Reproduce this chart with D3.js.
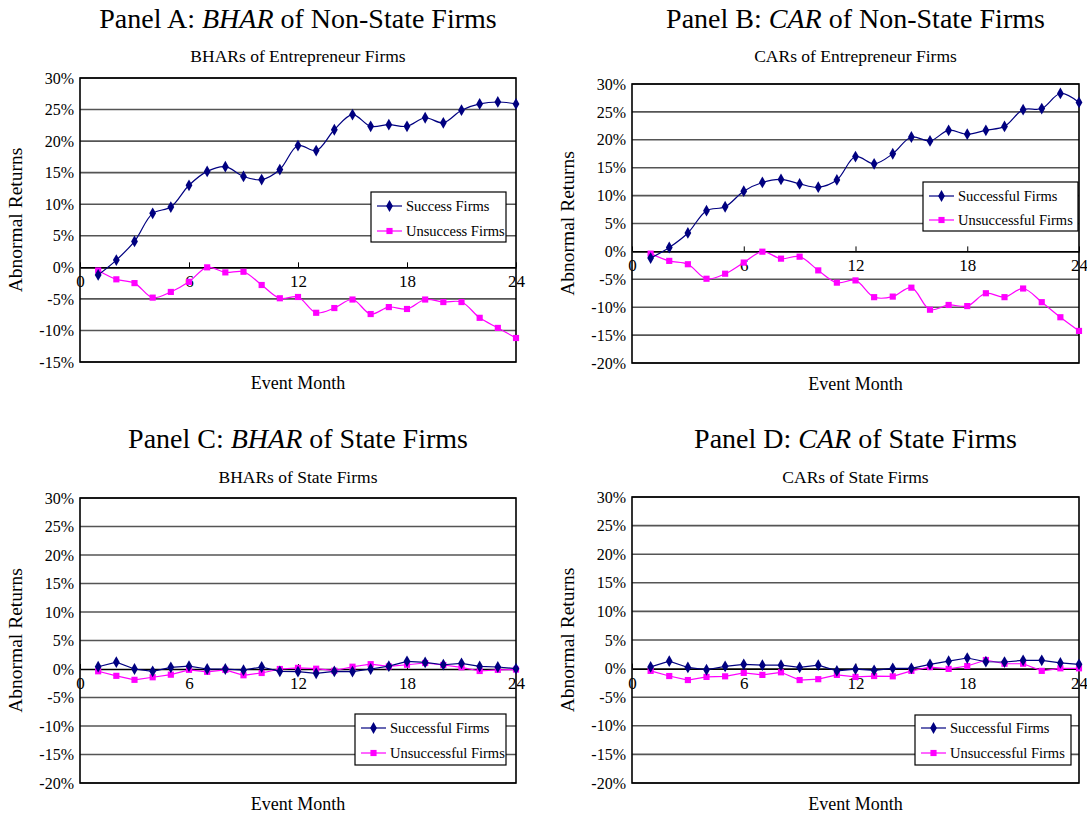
<!DOCTYPE html>
<html>
<head>
<meta charset="utf-8">
<script src="https://cdn.jsdelivr.net/npm/d3@7"></script>
<style>
body { margin: 0; background: #fff; }
svg text { font-family: "Liberation Serif", "Times New Roman", serif; fill: #000; }
</style>
</head>
<body>
<div id="chart"></div>
<script>
//event months and axis ticks
var months = [1, 2, 3, 4, 5, 6, 7, 8, 9, 10, 11, 12, 13, 14, 15, 16, 17, 18, 19, 20, 21, 22, 23, 24];
var xTicks = [0, 6, 12, 18, 24];
var yTicksA = [30, 25, 20, 15, 10, 5, 0, -5, -10, -15];
var yTicksRest = [30, 25, 20, 15, 10, 5, 0, -5, -10, -15, -20];

//panel A: BHAR of non-state firms (%)
var bharNonStateSuccess = [-1.2, 1.15, 4.1, 8.55, 9.55, 13.0, 15.2, 15.95, 14.4, 13.9, 15.5, 19.3,
    18.5, 21.8, 24.2, 22.35, 22.6, 22.35, 23.7, 22.9, 24.9, 25.9, 26.2, 25.9];
var bharNonStateUnsuccess = [-0.5, -1.9, -2.5, -4.8, -3.9, -2.3, 0.0, -0.8, -0.7, -2.8, -4.9, -4.7,
    -7.2, -6.45, -5.1, -7.4, -6.3, -6.6, -5.1, -5.5, -5.5, -8.0, -9.6, -11.2];

//panel B: CAR of non-state firms (%)
var carNonStateSuccess = [-1.2, 0.7, 3.3, 7.3, 8.0, 10.8, 12.35, 12.9, 12.1, 11.5, 12.8, 17.0,
    15.7, 17.5, 20.5, 19.8, 21.7, 21.0, 21.7, 22.4, 25.4, 25.6, 28.3, 26.7];
var carNonStateUnsuccess = [-0.4, -1.7, -2.3, -4.9, -4.0, -2.0, -0.05, -1.3, -0.95, -3.4, -5.6, -5.2,
    -8.2, -8.1, -6.5, -10.45, -9.6, -9.8, -7.5, -8.2, -6.65, -9.1, -11.8, -14.25];

//panel C: BHAR of state firms (%)
var bharStateSuccess = [0.4, 1.2, 0.0, -0.4, 0.3, 0.5, 0.0, 0.0, -0.2, 0.35, -0.4, -0.45,
    -0.75, -0.4, -0.45, 0.0, 0.5, 1.35, 1.15, 0.75, 1.0, 0.45, 0.35, 0.05];
var bharStateUnsuccess = [-0.4, -1.2, -1.9, -1.45, -1.0, -0.15, -0.5, -0.15, -1.1, -0.7, 0.0, 0.2,
    0.05, -0.3, 0.4, 0.85, 0.45, 0.75, 1.05, 0.7, 0.3, -0.35, -0.15, -0.1];

//panel D: CAR of state firms (%)
var carStateSuccess = [0.3, 1.3, 0.2, -0.2, 0.4, 0.75, 0.6, 0.6, 0.2, 0.6, -0.4, -0.1,
    -0.3, 0.05, 0.05, 0.75, 1.3, 1.85, 1.2, 1.15, 1.45, 1.45, 1.0, 0.75];
var carStateUnsuccess = [-0.4, -1.3, -2.0, -1.45, -1.35, -0.75, -1.1, -0.65, -2.0, -1.85, -1.1, -1.45,
    -1.3, -1.35, -0.4, 0.25, -0.05, 0.45, 1.5, 0.85, 0.85, -0.4, 0.05, 0.05];

var navy = "#000080";
var magenta = "#ff00ff";
var serif = "'Liberation Serif', 'Times New Roman', serif";

var svg = d3.select("#chart").append("svg")
    .attr("width", 1087)
    .attr("height", 816);

//panel layouts
var panels = [
    {
        box: {left: 80, right: 516, top: 78, bottom: 362},
        titleY: 28, subtitleY: 62,
        yTicks: yTicksA,
        title: ["Panel A: ", "BHAR", " of Non-State Firms"],
        subtitle: "BHARs of Entrepreneur Firms",
        success: bharNonStateSuccess, unsuccess: bharNonStateUnsuccess,
        names: ["Success Firms", "Unsuccess Firms"],
        legend: {x: 371, y: 192, w: 135, h: 50, r1: 14, r2: 39},
        smooth: true
    },
    {
        box: {left: 632, right: 1079, top: 84, bottom: 363},
        titleY: 28, subtitleY: 62,
        yTicks: yTicksRest,
        title: ["Panel B: ", "CAR", " of Non-State Firms"],
        subtitle: "CARs of Entrepreneur Firms",
        success: carNonStateSuccess, unsuccess: carNonStateUnsuccess,
        names: ["Successful Firms", "Unsuccessful Firms"],
        legend: {x: 923, y: 182, w: 155, h: 49, r1: 14, r2: 38},
        smooth: true
    },
    {
        box: {left: 80, right: 516, top: 498, bottom: 783},
        titleY: 448, subtitleY: 483,
        yTicks: yTicksRest,
        title: ["Panel C: ", "BHAR", " of State Firms"],
        subtitle: "BHARs of State Firms",
        success: bharStateSuccess, unsuccess: bharStateUnsuccess,
        names: ["Successful Firms", "Unsuccessful Firms"],
        legend: {x: 355, y: 714, w: 151, h: 51, r1: 14, r2: 39},
        smooth: false
    },
    {
        box: {left: 632, right: 1079, top: 497, bottom: 783},
        titleY: 448, subtitleY: 483,
        yTicks: yTicksRest,
        title: ["Panel D: ", "CAR", " of State Firms"],
        subtitle: "CARs of State Firms",
        success: carStateSuccess, unsuccess: carStateUnsuccess,
        names: ["Successful Firms", "Unsuccessful Firms"],
        legend: {x: 915, y: 715, w: 156, h: 50, r1: 13, r2: 38},
        smooth: false
    }
];

var diamond = d3.symbol().type(d3.symbolDiamond).size(40);
var square = d3.symbol().type(d3.symbolSquare).size(38);

function drawPanel(p) {
    var b = p.box;
    var cx = (b.left + b.right) / 2;

    var x = d3.scaleLinear().domain([0, 24]).range([b.left, b.right]);
    var y = d3.scaleLinear()
        .domain([d3.min(p.yTicks), d3.max(p.yTicks)])
        .range([b.bottom, b.top]);

    var g = svg.append("g");

    //title with italic measure
    var title = g.append("text")
        .attr("x", cx)
        .attr("y", p.titleY)
        .attr("text-anchor", "middle")
        .style("font-family", serif)
        .style("font-size", "28px");
    title.append("tspan").text(p.title[0]);
    title.append("tspan").attr("font-style", "italic").text(p.title[1]);
    title.append("tspan").text(p.title[2]);

    g.append("text")
        .attr("x", cx)
        .attr("y", p.subtitleY)
        .attr("text-anchor", "middle")
        .style("font-family", serif)
        .style("font-size", "17.5px")
        .text(p.subtitle);

    //horizontal gridlines
    g.selectAll(".grid")
        .data(p.yTicks.filter(function(d) { return d !== 0; }))
        .enter()
        .append("line")
        .attr("x1", b.left)
        .attr("x2", b.right)
        .attr("y1", function(d) { return y(d); })
        .attr("y2", function(d) { return y(d); })
        .attr("stroke", "#555")
        .attr("stroke-width", 1.6);

    //plot border
    g.append("rect")
        .attr("x", b.left)
        .attr("y", b.top)
        .attr("width", b.right - b.left)
        .attr("height", b.bottom - b.top)
        .attr("fill", "none")
        .attr("stroke", "#000")
        .attr("stroke-width", 1.6);

    //y axis labels
    var yAxis = g.append("g")
        .attr("transform", "translate(" + b.left + ",0)")
        .call(d3.axisLeft(y).tickValues(p.yTicks).tickSize(0).tickPadding(6)
            .tickFormat(function(d) { return d + "%"; }));
    yAxis.select(".domain").remove();
    yAxis.selectAll("text")
        .style("font-family", serif)
        .style("font-size", "16px")
        .attr("fill", "#000");

    //x axis on the zero line, ticks pointing up
    var xAxis = g.append("g")
        .attr("transform", "translate(0," + y(0) + ")")
        .call(d3.axisBottom(x).tickValues(xTicks).tickSizeInner(-5).tickSizeOuter(0).tickPadding(8));
    xAxis.select(".domain")
        .attr("stroke", "#000")
        .attr("stroke-width", 1.6);
    xAxis.selectAll("line").attr("stroke", "#000");
    xAxis.selectAll("text")
        .style("font-family", serif)
        .style("font-size", "17px")
        .attr("fill", "#333");

    //axis titles
    g.append("text")
        .attr("transform", "translate(" + (b.left - 58) + "," + ((b.top + b.bottom) / 2) + ") rotate(-90)")
        .attr("text-anchor", "middle")
        .style("font-family", serif)
        .style("font-size", "19.5px")
        .text("Abnormal Returns");

    g.append("text")
        .attr("x", cx)
        .attr("y", b.bottom + 27)
        .attr("text-anchor", "middle")
        .style("font-family", serif)
        .style("font-size", "18px")
        .text("Event Month");

    //lines and markers
    var line = d3.line()
        .x(function(d, i) { return x(months[i]); })
        .y(function(d) { return y(d); })
        .curve(p.smooth ? d3.curveCatmullRom.alpha(0.5) : d3.curveLinear);

    var series = [
        {values: p.success, color: navy, symbol: diamond},
        {values: p.unsuccess, color: magenta, symbol: square}
    ];

    series.slice().reverse().forEach(function(s) {
        g.append("path")
            .datum(s.values)
            .attr("fill", "none")
            .attr("stroke", s.color)
            .attr("stroke-width", 1.2)
            .attr("d", line);

        g.selectAll(null)
            .data(s.values)
            .enter()
            .append("path")
            .attr("d", s.symbol)
            .attr("transform", function(d, i) { return "translate(" + x(months[i]) + "," + y(d) + ")"; })
            .attr("fill", s.color);
    });

    //legend
    var L = p.legend;
    var leg = g.append("g");
    leg.append("rect")
        .attr("x", L.x)
        .attr("y", L.y)
        .attr("width", L.w)
        .attr("height", L.h)
        .attr("fill", "#fff")
        .attr("stroke", "#000")
        .attr("stroke-width", 1.2);

    series.forEach(function(s, i) {
        var ry = L.y + (i === 0 ? L.r1 : L.r2);
        leg.append("line")
            .attr("x1", L.x + 6)
            .attr("x2", L.x + 31)
            .attr("y1", ry)
            .attr("y2", ry)
            .attr("stroke", s.color)
            .attr("stroke-width", 1.2);
        leg.append("path")
            .attr("d", s.symbol)
            .attr("transform", "translate(" + (L.x + 18.5) + "," + ry + ")")
            .attr("fill", s.color);
        leg.append("text")
            .attr("x", L.x + 35)
            .attr("y", ry)
            .attr("dy", "0.35em")
            .style("font-family", serif)
            .style("font-size", "14.5px")
            .attr("fill", "#222")
            .text(p.names[i]);
    });
}

panels.forEach(drawPanel);
</script>
</body>
</html>
